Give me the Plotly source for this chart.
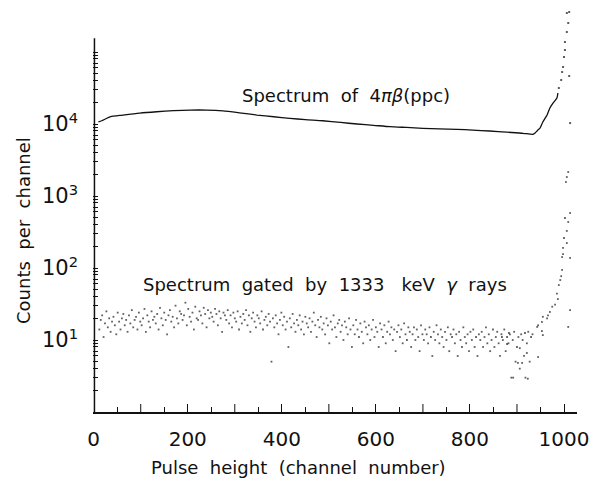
import plotly.graph_objects as go

# ---- 4πβ(ppc) spectrum: smooth continuum and the steep edge near channel 1000
beta_ch = [10, 17, 35, 62, 98, 134, 170, 205, 240, 275, 310, 347, 383, 417, 450,
           487, 525, 560, 595, 630, 665, 700, 735, 772, 806, 842, 878, 913, 934,
           938, 944, 949, 955, 964, 970, 977, 985, 987]
beta_counts = [10700, 11100, 12600, 13300, 14200, 14800, 15300, 15600, 15600, 15200,
               14300, 13300, 12600, 12000, 11500, 11100, 10500, 10000, 9600, 9180,
               8950, 8720, 8580, 8440, 8220, 8000, 7700, 7430, 7190,
               7430, 8200, 8790, 10660, 13340, 16700, 19600, 22960, 26980]

# isolated points at the top of the edge
beta_edge_ch = [989, 994, 996, 998, 1000, 1002, 1002, 1006, 1009, 1006, 1011, 1011, 1013]
beta_edge_counts = [31600, 40830, 52700, 61900, 85300, 106600, 137600, 189600,
                    252700, 348000, 359400, 46400, 10300]

# ---- spectrum gated by 1333 keV gamma rays (one point every third channel)
gated_ch = list(range(12, 934, 3))
gated_counts = [
    14, 19, 22, 11, 17, 25, 15, 20, 13, 18,
    21, 16, 12, 24, 18, 14, 20, 23, 16, 19,
    13, 22, 17, 26, 15, 19, 21, 14, 24, 18,
    16, 20, 27, 13, 22, 18, 15, 25, 19, 21,
    17, 23, 14, 28, 20, 16, 24, 19, 12, 22,
    26, 18, 21, 15, 30, 20, 17, 25, 23, 19,
    22, 33, 16, 27, 21, 18, 24, 14, 29, 20,
    19, 25, 22, 17, 28, 23, 15, 26, 20, 24,
    21, 18, 27, 23, 16, 25, 20, 13, 24, 22,
    19, 26, 17, 22, 15, 24, 20, 18, 25, 14,
    21, 17, 23, 19, 26, 16, 22, 13, 20, 24,
    18, 15, 22, 20, 17, 25, 14, 19, 21, 16,
    23, 18, 5, 20, 15, 22, 17, 12, 19, 24,
    16, 21, 14, 18, 8, 20, 15, 23, 17, 13,
    19, 16, 22, 14, 18, 12, 21, 17, 15, 20,
    13, 18, 24, 16, 11, 19, 15, 21, 14, 17,
    12, 20, 16, 9, 18, 14, 22, 15, 11, 17,
    19, 13, 16, 10, 18, 15, 12, 20, 14, 8,
    16, 12, 19, 14, 11, 17, 13, 9, 18, 15,
    12, 16, 10, 14, 19, 11, 15, 13, 8, 17,
    14, 11, 16, 9, 13, 18, 12, 15, 10, 14,
    7, 13, 16, 11, 14, 9, 17, 12, 10, 15,
    13, 8, 12, 15, 10, 14, 11, 7, 16, 12,
    10, 14, 12, 9, 15, 11, 6, 13, 10, 16,
    12, 9, 14, 11, 8, 13, 10, 15, 7, 12,
    11, 14, 9, 12, 6, 13, 10, 8, 15, 11,
    9, 12, 7, 13, 10, 14, 8, 11, 6, 12,
    10, 13, 8, 11, 15, 9, 12, 7, 10, 14,
    8, 11, 13, 9, 6, 12, 10, 14, 7, 11,
    9, 12, 3, 10, 13, 5, 8, 11, 4, 12,
    10, 6, 3, 9, 13, 5, 11, 12,
]

# gated spectrum: rising edge and peak region
gated_peak_ch = [868, 879, 883, 892, 902, 906, 911, 917, 921, 923, 943, 945, 945, 953,
                 953, 955, 955, 964, 966, 970, 975, 981, 985, 987, 989, 992, 994, 996,
                 996, 998, 998, 1000, 1002, 1004, 1006, 1006, 1006, 1009, 1009, 1009,
                 1013, 1013, 1013]
gated_peak_counts = [11, 8.8, 12.5, 3.0, 4.8, 7.7, 4.8, 12.5, 6.6, 2.9, 15.2, 16, 5.8,
                     17.8, 13.3, 21, 11.7, 20, 22, 24.5, 29, 31, 44, 37, 58, 68, 77, 94,
                     142, 156, 190, 261, 495, 1565, 222, 327, 1835, 435, 2150, 15.2,
                     581, 138, 26]

# axis ticks
x_labelled = [0, 200, 400, 600, 800, 1000]
x_labels = ["0", "200", "400", "600", "800", "1000"]
x_long_unlabelled = [100, 300, 500, 700, 900]
x_minor = [50, 150, 250, 350, 450, 550, 650, 750, 850, 950]
y_labelled = [10, 100, 1000, 10000]
y_labels = ["10<sup>1</sup>", "10<sup>2</sup>", "10<sup>3</sup>", "10<sup>4</sup>"]
y_minor_decades = [1, 10, 100, 1000, 10000]

FONT = "DejaVu Sans"
INK = "#111111"

fig = go.Figure()

fig.add_trace(go.Scatter(
    x=gated_ch + gated_peak_ch, y=gated_counts + gated_peak_counts,
    mode="markers",
    marker=dict(symbol="square", size=1.8, color="#3a3a3a", opacity=0.8,
                line=dict(width=0)),
    hoverinfo="skip", showlegend=False))

fig.add_trace(go.Scatter(
    x=beta_ch, y=beta_counts, mode="lines",
    line=dict(color=INK, width=1.3, shape="spline", smoothing=0.6),
    hoverinfo="skip", showlegend=False))

fig.add_trace(go.Scatter(
    x=beta_edge_ch, y=beta_edge_counts, mode="markers",
    marker=dict(symbol="square", size=2, color="#333333", opacity=0.8,
                line=dict(width=0)),
    hoverinfo="skip", showlegend=False))

# unlabelled log ticks: 1..9 in each decade plus the 10^5 mark
y_minor = []
for d in y_minor_decades:
    y_minor.extend(d * m for m in range(1, 10) if d * m not in y_labelled)
y_minor.append(100000)

# plot area geometry (pixels)
W, H = 599, 483
L, R, T, B = 93, 22, 5, 71
ph = H - T - B
px_per_decade = 72.0
ch0_px, ch_per_px = 93.7, 0.4703
x_lo = (L - ch0_px) / ch_per_px
x_hi = (W - R - ch0_px) / ch_per_px

fig.update_layout(
    width=W, height=H,
    margin=dict(l=L, r=R, t=T, b=B, pad=0),
    paper_bgcolor="white", plot_bgcolor="white",
    font=dict(family=FONT, color=INK, size=19),
    showlegend=False,
    xaxis=dict(
        range=[x_lo, x_hi], showgrid=False, zeroline=False,
        showline=True, linecolor=INK, linewidth=1.5,
        tickmode="array", tickvals=x_labelled, ticktext=x_labels,
        ticks="inside", ticklen=8, tickwidth=1, tickcolor=INK,
        ticklabelstandoff=8,
        minor=dict(tickvals=x_minor, ticks="inside", ticklen=5,
                   tickwidth=1, tickcolor=INK, showgrid=False),
        tickfont=dict(family=FONT, size=20, color=INK),
    ),
    yaxis=dict(
        type="log", range=[0, ph / px_per_decade],
        showgrid=False, zeroline=False, showline=False,
        tickmode="array", tickvals=y_labelled, ticktext=y_labels,
        ticks="inside", ticklen=5, tickwidth=1, tickcolor=INK,
        ticklabelstandoff=14,
        minor=dict(tickvals=y_minor, ticks="inside", ticklen=5,
                   tickwidth=1, tickcolor=INK, showgrid=False),
        tickfont=dict(family=FONT, size=21, color=INK),
    ),
)

# long ticks at the odd hundreds (no label)
tick_h = 8 / ph
for xv in x_long_unlabelled:
    fig.add_shape(type="line", xref="x", yref="paper", x0=xv, x1=xv,
                  y0=0, y1=tick_h, line=dict(color=INK, width=1))

# vertical axis line stops a little above 10^5
y_axis_top = 10 ** 5.19
fig.add_shape(type="line", xref="paper", yref="y", x0=0.003, x1=0.003,
              y0=1, y1=y_axis_top, line=dict(color=INK, width=1.5))

def px_to_paper(px, py):
    return (px - L) / (W - L - R), (H - B - py) / ph

notes = [
    ("Spectrum\u00a0\u00a0of\u00a0\u00a04<i>\u03c0</i><i>\u03b2</i>(ppc)", 346, 95, 0),
    ("Spectrum\u00a0\u00a0gated\u00a0\u00a0by\u00a0\u00a01333\u00a0\u00a0\u00a0keV\u00a0\u00a0<i>\u03b3</i>\u00a0\u00a0rays",
     325, 285, 0),
    ("Pulse\u00a0\u00a0height\u00a0\u00a0(channel\u00a0\u00a0number)", 298, 467, 0),
    ("Counts\u00a0\u00a0per\u00a0\u00a0channel", 23, 231, -90),
]
for text, px, py, ang in notes:
    ax, ay = px_to_paper(px, py)
    fig.add_annotation(text=text, xref="paper", yref="paper", x=ax, y=ay,
                       xanchor="center", yanchor="middle", showarrow=False,
                       textangle=ang, font=dict(family=FONT, size=18, color=INK))

fig.write_html("out.html")
